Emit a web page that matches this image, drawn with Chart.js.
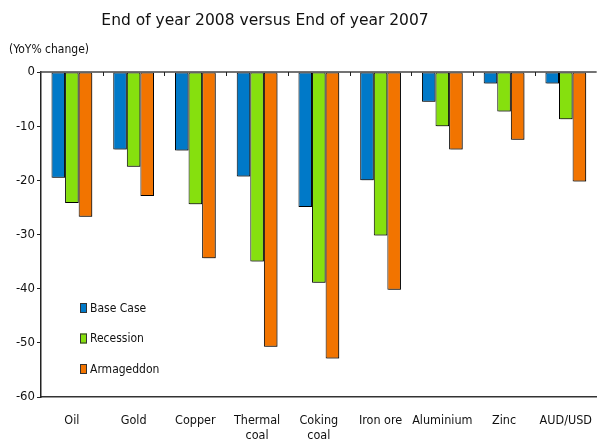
<!DOCTYPE html>
<html>
<head>
<meta charset="utf-8">
<script src="https://cdn.jsdelivr.net/npm/chart.js@4"></script>
<style>
  html, body { margin: 0; padding: 0; background: #fff; }
  #wrap { width: 600px; height: 441px; }
</style>
</head>
<body>
<div id="wrap"><canvas id="c" width="600" height="441"></canvas></div>
<script>
// Year-on-year % change by commodity under three scenarios
const categories = ['Oil', 'Gold', 'Copper', ['Thermal', 'coal'], ['Coking', 'coal'], 'Iron ore', 'Aluminium', 'Zinc', 'AUD/USD'];
const baseCase   = [-19.5, -14.3, -14.5, -19.3, -24.9, -20.0, -5.5, -2.1, -2.1];
const recession  = [-24.2, -17.5, -24.4, -35.0, -38.9, -30.2, -10.0, -7.3, -8.7];
const armageddon = [-26.7, -22.9, -34.4, -50.7, -52.9, -40.2, -14.3, -12.5, -20.2];
const yTicks = [0, -10, -20, -30, -40, -50, -60];

const FONT = '"DejaVu Sans Condensed", "DejaVu Sans", sans-serif';

// Title, unit label, zero line with category tick marks, and the in-plot legend
const decorations = {
  id: 'decorations',
  beforeDatasetsDraw(chart) {
    const ctx = chart.ctx;
    ctx.save();
    ctx.shadowColor = 'rgba(0,0,0,0.35)';
    ctx.shadowOffsetX = 1.5;
    ctx.shadowOffsetY = 1.5;
    ctx.shadowBlur = 0;
  },
  afterDatasetsDraw(chart) {
    chart.ctx.restore();
  },
  afterDraw(chart) {
    const ctx = chart.ctx;
    const x = chart.scales.x, y = chart.scales.y;
    const area = chart.chartArea;
    ctx.save();
    // title
    ctx.fillStyle = '#111';
    ctx.font = '15.5px "DejaVu Sans", sans-serif';
    ctx.textAlign = 'center';
    ctx.textBaseline = 'middle';
    ctx.fillText('End of year 2008 versus End of year 2007', 265, 21);
    // unit label
    ctx.font = '12px ' + FONT;
    ctx.textAlign = 'left';
    ctx.fillText('(YoY% change)', 9, 50);
    // zero line
    const y0 = y.getPixelForValue(0);
    ctx.strokeStyle = '#444';
    ctx.lineWidth = 1.5;
    ctx.beginPath();
    ctx.moveTo(area.left - 1, y0);
    ctx.lineTo(area.right, y0);
    ctx.stroke();
    // category boundary ticks on the zero line
    ctx.lineWidth = 1;
    ctx.strokeStyle = '#222';
    for (let i = 1; i < categories.length; i++) {
      const bx = Math.round((x.getPixelForValue(i - 1) + x.getPixelForValue(i)) / 2) + 0.5;
      ctx.beginPath();
      ctx.moveTo(bx, y0);
      ctx.lineTo(bx, y0 + 4);
      ctx.stroke();
    }
    // legend
    const lx = 80, ly = 308, step = 30.5;
    ctx.font = '12px ' + FONT;
    ctx.textBaseline = 'middle';
    chart.data.datasets.forEach((ds, i) => {
      const cy = ly + i * step;
      ctx.fillStyle = ds.backgroundColor;
      ctx.fillRect(lx, cy - 5, 7, 10);
      ctx.strokeStyle = '#333';
      ctx.strokeRect(lx + 0.5, cy - 4.5, 6, 9);
      ctx.fillStyle = '#111';
      ctx.fillText(ds.label, lx + 10, cy + 0.5);
    });
    ctx.restore();
  }
};

new Chart(document.getElementById('c'), {
  type: 'bar',
  data: {
    labels: categories,
    datasets: [
      { label: 'Base Case', data: baseCase, backgroundColor: '#0079C8' },
      { label: 'Recession', data: recession, backgroundColor: '#86E00E' },
      { label: 'Armageddon', data: armageddon, backgroundColor: '#F27400' }
    ]
  },
  options: {
    responsive: false,
    animation: false,
    devicePixelRatio: 1,
    layout: { padding: { top: 72, right: 0, left: 0, bottom: 0 } },
    datasets: {
      bar: {
        categoryPercentage: 0.66,
        barPercentage: 1.0,
        borderColor: '#000',
        borderWidth: 1,
        borderSkipped: false
      }
    },
    plugins: {
      legend: { display: false },
      title: { display: false },
      tooltip: { enabled: false }
    },
    scales: {
      x: {
        grid: { display: false },
        border: { display: true, color: '#333', width: 1.5 },
        ticks: {
          color: '#111',
          font: { family: FONT, size: 12.5 },
          padding: 8,
          maxRotation: 0,
          autoSkip: false
        },
        afterFit(s) { s.height = 44; }
      },
      y: {
        min: -60,
        max: 0,
        afterBuildTicks(s) { s.ticks = yTicks.map(v => ({ value: v })); },
        grid: { drawOnChartArea: false, tickLength: 4, color: '#222' },
        border: { display: true, color: '#222', width: 1.5 },
        ticks: {
          color: '#111',
          font: { family: FONT, size: 13 },
          padding: 2
        },
        afterFit(s) { s.width = 41; }
      }
    }
  },
  plugins: [decorations]
});
</script>
</body>
</html>
